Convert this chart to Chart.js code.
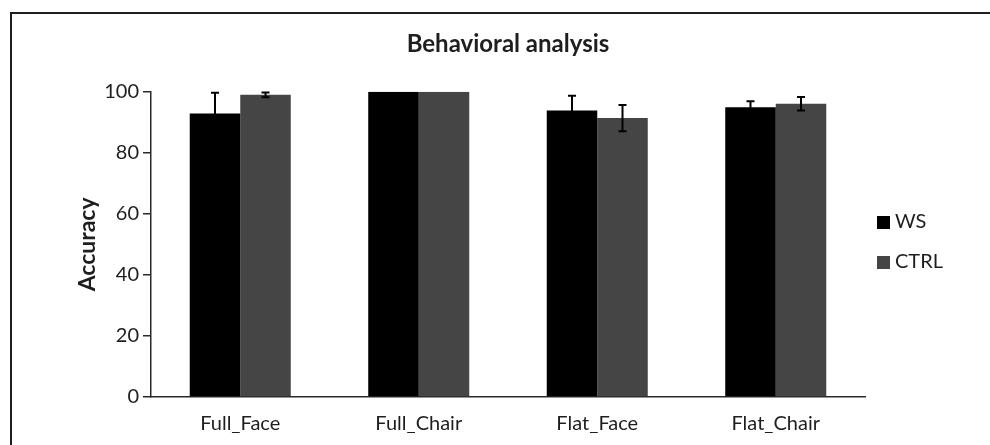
<!DOCTYPE html>
<html>
<head>
<meta charset="utf-8">
<script src="https://cdn.jsdelivr.net/npm/chart.js@4.4.1/dist/chart.umd.min.js"></script>
<style>
  html, body { margin: 0; padding: 0; background: #fff; }
  body { width: 990px; height: 445px; position: relative; overflow: hidden; font-family: Lato, "Open Sans", sans-serif; }
  #frame { position: absolute; left: 10px; top: 12px; width: 1000px; height: 450px;
           border-left: 2px solid #1e1e1e; border-top: 2px solid #1e1e1e; }
  #wrap { position: absolute; left: 0; top: 0; width: 990px; height: 445px; }
  #legend { position: absolute; left: 877px; top: 209px; color: #1e1e1e; font-size: 20px; }
  #legend div { height: 40px; line-height: 22px; white-space: nowrap; }
  #legend span { display: inline-block; width: 13px; height: 13px; margin-right: 5px; vertical-align: -1px; }
</style>
</head>
<body>
<div id="frame"></div>
<div id="wrap"><canvas id="chart"></canvas></div>
<div id="legend"></div>
<script>
// values
const categories = ['Full_Face', 'Full_Chair', 'Flat_Face', 'Flat_Chair'];
const seriesNames = ['WS', 'CTRL'];
const seriesColors = ['#000000', '#454545'];
const ws_values = [92.9, 100, 93.9, 94.9];
const ws_errors = [6.8, 0, 4.8, 2.0];
const ctrl_values = [99.0, 100, 91.4, 96.1];
const ctrl_errors = [0.8, 0, 4.3, 2.2];
const yTicks = [0, 20, 40, 60, 80, 100];

const errors = [ws_errors, ctrl_errors];

// simple error bar drawing on top of the bars
const errorBars = {
    id: 'errorBars',
    afterDatasetsDraw(chart) {
        const ctx = chart.ctx;
        const y = chart.scales.y;
        ctx.save();
        ctx.strokeStyle = '#000';
        ctx.lineWidth = 2;
        chart.data.datasets.forEach((ds, di) => {
            const meta = chart.getDatasetMeta(di);
            meta.data.forEach((bar, i) => {
                const err = errors[di][i];
                if (!err) return;
                const v = ds.data[i];
                const top = y.getPixelForValue(v + err);
                const bottom = y.getPixelForValue(v - err);
                const cap = 4;
                ctx.beginPath();
                ctx.moveTo(bar.x, top);
                ctx.lineTo(bar.x, bottom);
                ctx.moveTo(bar.x - cap, top);
                ctx.lineTo(bar.x + cap, top);
                ctx.moveTo(bar.x - cap, bottom);
                ctx.lineTo(bar.x + cap, bottom);
                ctx.stroke();
            });
        });
        ctx.restore();
    }
};

// legend as plain html
const legend = document.getElementById('legend');
seriesNames.forEach((name, i) => {
    const row = document.createElement('div');
    row.innerHTML = '<span style="background:' + seriesColors[i] + '"></span>' + name;
    legend.appendChild(row);
});

const ctx = document.getElementById('chart').getContext('2d');
const myChart = new Chart(ctx, {
    type: 'bar',
    data: {
        labels: categories,
        datasets: [{
            label: seriesNames[0],
            data: ws_values,
            backgroundColor: seriesColors[0],
            barPercentage: 1,
            categoryPercentage: 0.566
        },
        {
            label: seriesNames[1],
            data: ctrl_values,
            backgroundColor: seriesColors[1],
            barPercentage: 1,
            categoryPercentage: 0.566
        }]
    },
    plugins: [errorBars],
    options: {
        responsive: true,
        maintainAspectRatio: false,
        animation: false,
        layout: {
            padding: { left: 74, right: 125, top: 0, bottom: 12 }
        },
        plugins: {
            legend: { display: false },
            tooltip: { enabled: false },
            title: {
                display: true,
                fullSize: false,
                text: 'Behavioral analysis',
                color: '#1e1e1e',
                font: { family: 'Lato', size: 24, weight: 'bold' },
                padding: { top: 30, bottom: 33 }
            }
        },
        scales: {
            x: {
                afterFit: axis => {
                    axis.height = 36;
                },
                grid: { display: false, drawTicks: false },
                border: { display: true, color: '#2a2a2a', width: 1.5 },
                ticks: {
                    color: '#1e1e1e',
                    padding: 15,
                    font: { family: 'Lato', size: 20 }
                }
            },
            y: {
                min: 0,
                max: 100,
                afterBuildTicks: axis => {
                    axis.ticks = yTicks.map(v => ({ value: v }));
                },
                afterFit: axis => {
                    axis.width = 77;
                },
                grid: {
                    drawOnChartArea: false,
                    tickLength: 8,
                    color: '#2a2a2a',
                    lineWidth: 1.5
                },
                border: { display: true, color: '#2a2a2a', width: 1.5 },
                ticks: {
                    color: '#1e1e1e',
                    padding: 4,
                    font: { family: 'Lato', size: 20 }
                },
                title: {
                    display: true,
                    text: 'Accuracy',
                    color: '#1e1e1e',
                    font: { family: 'Lato', size: 23, weight: 'bold' },
                    padding: { top: 0, bottom: 10 }
                }
            }
        }
    }
});
</script>
</body>
</html>
